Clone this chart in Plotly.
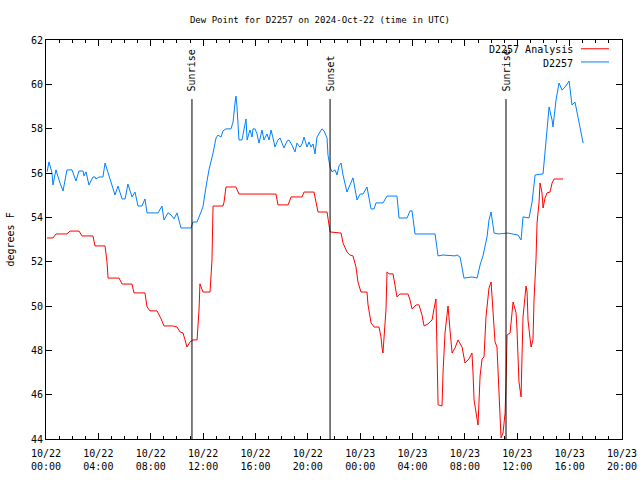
import pandas as pd
import plotly.graph_objects as go

# ---- data (hours since 2024-10-22 00:00 UTC, dew point °F) ----
obs_hours = [0.08, 0.23, 0.46, 0.53, 0.76, 0.92, 1.07, 1.30, 1.60, 1.99, 2.29, 2.52, 2.83, 2.90, 3.06,
             3.28, 3.59, 3.74, 3.82, 4.05, 4.35, 4.51, 4.74, 5.04, 5.27, 5.50, 5.81, 6.04, 6.26, 6.57,
             6.80, 7.03, 7.33, 7.56, 7.72, 8.56, 8.86, 9.01, 9.32, 9.55, 9.78, 10.01, 10.31, 11.08, 11.23,
             11.54, 11.76, 11.99, 12.22, 12.45, 12.76, 12.99, 13.14, 13.37, 13.52, 13.75, 14.13, 14.29, 14.44,
             14.51, 14.59, 14.74, 14.97, 15.13, 15.28, 15.36, 15.58, 15.74, 15.81, 15.97, 16.12, 16.27, 16.50,
             16.65, 16.88, 17.04, 17.19, 17.34, 17.49, 17.72, 17.88, 18.03, 18.18, 18.41, 18.56, 18.79, 19.02,
             19.17, 19.40, 19.56, 19.71, 19.94, 20.09, 20.24, 20.40, 20.55, 20.70, 20.93, 21.08, 21.24, 21.47,
             21.54, 21.70, 21.85, 22.08, 22.23, 22.38, 22.54, 22.69, 22.99, 23.45, 23.76, 23.99, 24.22, 24.52,
             24.83, 25.06, 25.21, 25.74, 26.05, 26.81, 26.97, 27.58, 27.81, 27.96, 28.19, 29.72, 29.95, 30.33,
             31.24, 31.40, 31.63, 31.93, 32.54, 32.93, 33.16, 33.38, 33.69, 33.84, 34.00, 34.23, 34.53, 35.30,
             36.06, 36.29, 36.44, 36.90, 37.13, 37.36, 37.97, 38.20, 38.43, 38.66, 38.73, 38.96, 39.19, 39.42,
             39.65, 39.96, 40.18, 40.41, 40.57, 40.80, 41.03]
obs_dewpt = [56.05, 56.5, 56.0, 55.46, 56.14, 55.78, 55.55, 55.19, 56.14, 56.14, 55.64, 56.09, 56.09, 55.87, 56.05,
             55.46, 55.82, 55.82, 55.73, 55.82, 55.82, 56.45, 56.0, 55.37, 55.01, 55.41, 54.83, 54.83, 55.5, 54.92,
             55.14, 54.51, 54.51, 54.83, 54.2, 54.2, 54.51, 53.88, 54.2, 54.11, 53.93, 54.2, 53.52, 53.52, 53.79,
             53.79, 54.15, 54.47, 55.37, 56.14, 56.9, 57.58, 57.71, 57.62, 57.9, 57.99, 57.99, 58.3, 59.16,
             59.47, 58.98, 57.49, 57.49, 57.94, 58.44, 57.49, 57.94, 57.62, 57.99, 57.99, 57.76, 57.35, 57.94,
             57.49, 57.76, 57.49, 57.94, 57.58, 57.17, 57.49, 57.58, 57.35, 57.13, 57.44, 57.49, 57.26, 56.95,
             57.35, 57.17, 57.31, 57.62, 57.17, 57.4, 57.17, 57.31, 56.86, 57.62, 57.85, 57.99, 57.9, 57.58,
             56.81, 56.27, 56.05, 56.14, 55.91, 56.32, 56.45, 55.91, 55.14, 55.78, 54.78, 55.05, 55.05, 55.37,
             54.38, 54.38, 54.65, 54.65, 54.96, 54.96, 53.97, 53.97, 54.29, 54.29, 53.25, 53.25, 52.26, 52.3,
             52.26, 52.3, 52.21, 51.26, 51.31, 51.26, 51.85, 52.26, 53.11, 53.88, 54.24, 53.29, 53.25, 53.29,
             53.2, 52.98, 54.02, 53.97, 54.69, 55.91, 55.96, 57.62, 58.98, 58.39, 58.08, 59.29, 60.06, 59.74,
             59.88, 60.15, 59.07, 59.2, 58.75, 58.03, 57.35]

ana_hours = [0.08, 0.53, 0.76, 1.60, 1.83, 2.52, 2.75, 3.59, 3.74, 4.51, 4.66, 4.74, 5.58, 5.81, 6.57,
             6.72, 7.56, 7.72, 7.94, 8.48, 8.79, 9.01, 9.70, 10.01, 10.24, 10.47, 10.62, 10.77, 11.00, 11.23,
             11.54, 11.69, 11.76, 11.99, 12.53, 12.68, 12.76, 13.52, 13.60, 13.75, 14.51, 14.74, 17.57, 17.72,
             18.49, 18.72, 19.56, 19.71, 20.47, 20.63, 20.78, 21.47, 21.62, 21.70, 22.54, 22.69, 22.99, 23.22,
             23.45, 23.68, 23.83, 24.06, 24.52, 24.60, 24.83, 25.06, 25.44, 25.59, 25.67, 25.74, 25.82, 25.97,
             26.05, 26.20, 26.51, 26.66, 26.81, 27.04, 27.65, 27.81, 27.96, 28.27, 28.49, 28.72, 28.88, 29.18,
             29.49, 29.64, 29.79, 29.87, 29.95, 30.25, 30.33, 30.48, 30.71, 30.86, 31.02, 31.25, 31.47, 31.78,
             32.01, 32.31, 32.54, 32.62, 32.70, 33.00, 33.16, 33.31, 33.46, 33.61, 33.84, 34.00, 34.15, 34.30,
             34.45, 34.61, 34.76, 34.91, 35.07, 35.14, 35.22, 35.45, 35.60, 35.68, 35.91, 35.98, 36.13, 36.29,
             36.36, 36.44, 36.67, 36.75, 36.82, 36.97, 37.05, 37.20, 37.28, 37.43, 37.51, 37.66, 37.74, 37.89,
             37.97, 38.12, 38.27, 38.50, 38.66, 38.81, 39.50]
ana_dewpt = [53.07, 53.07, 53.25, 53.25, 53.38, 53.38, 53.16, 53.16, 52.71, 52.71, 51.99, 51.26, 51.26, 50.99, 50.99,
             50.59, 50.59, 49.96, 49.78, 49.78, 49.42, 49.1, 49.1, 49.05, 48.83, 48.78, 48.47, 48.15, 48.38, 48.47,
             48.47, 49.82, 51.0, 50.63, 50.63, 52.08, 54.51, 54.51, 54.69, 55.37, 55.37, 55.05, 55.05, 54.56,
             54.56, 54.92, 54.92, 55.14, 55.14, 54.65, 54.24, 54.24, 53.75, 53.34, 53.29, 52.84, 52.44, 52.3,
             52.26, 51.76, 51.08, 50.63, 50.63, 50.05, 49.24, 49.05, 49.05, 48.6, 48.11, 47.88, 48.56, 49.82,
             51.54, 51.45, 51.45, 50.95, 50.41, 50.54, 50.54, 50.27, 49.87, 50.05, 50.05, 49.6, 49.1, 49.19,
             49.37, 49.87, 50.32, 47.93, 45.54, 45.49, 47.02, 48.78, 50.0, 48.92, 47.88, 48.11, 48.47, 48.15,
             47.43, 47.61, 47.88, 46.98, 45.76, 44.63, 46.84, 47.61, 47.7, 49.51, 50.81, 51.08, 49.82, 48.38,
             48.15, 46.08, 44.05, 44.27, 45.18, 46.53, 48.69, 48.78, 49.69, 50.18, 49.69, 48.92, 46.57, 45.9,
             47.7, 49.51, 50.9, 50.63, 49.37, 48.38, 48.15, 48.47, 50.27, 52.08, 53.75, 54.65, 55.55, 55.1,
             54.42, 54.87, 55.1, 55.14, 55.55, 55.73, 55.73]

event_hours = [11.15, 21.70, 35.14]
event_labels = ["Sunrise", "Sunset", "Sunrise"]

series_names = ["D2257 Analysis", "D2257"]
series_colors = ["#ff0000", "#0080ff"]

x_tick_hours = [0, 4, 8, 12, 16, 20, 24, 28, 32, 36, 40, 44]
y_ticks = [44, 46, 48, 50, 52, 54, 56, 58, 60, 62]

BASE = pd.Timestamp("2024-10-22 00:00")


def to_time(hours):
    return [BASE + pd.to_timedelta(h, unit="h") for h in hours]


FONT = "DejaVu Sans Mono"

fig = go.Figure()
fig.add_trace(go.Scatter(x=to_time(ana_hours), y=ana_dewpt, mode="lines", name=series_names[0],
                         line=dict(color=series_colors[0], width=1), showlegend=False))
fig.add_trace(go.Scatter(x=to_time(obs_hours), y=obs_dewpt, mode="lines", name=series_names[1],
                         line=dict(color=series_colors[1], width=1), showlegend=False))

# sunrise / sunset markers
for h, lab in zip(event_hours, event_labels):
    t = to_time([h])[0]
    fig.add_shape(type="line", xref="x", yref="paper", x0=t, x1=t, y0=0, y1=0.852,
                  line=dict(color="black", width=1))
    fig.add_annotation(x=t, xref="x", y=0.866, yref="paper", text=lab, textangle=-90,
                       showarrow=False, xanchor="center", yanchor="bottom",
                       font=dict(family=FONT, size=10, color="black"))

# legend (gnuplot style: text then sample on the right)
leg_y = [0.975, 0.942]
for name, col, yy in zip(series_names, series_colors, leg_y):
    fig.add_annotation(x=0.9185, xref="paper", y=yy, yref="paper", text=name, showarrow=False,
                       xanchor="right", yanchor="middle", font=dict(family=FONT, size=10, color="black"))
    fig.add_shape(type="line", xref="paper", yref="paper", x0=0.9288, x1=0.9774, y0=yy + 0.003, y1=yy + 0.003,
                  line=dict(color=col, width=1))

# y-axis label
fig.add_annotation(x=-0.0625, xref="paper", y=0.5, yref="paper", text="degrees F", textangle=-90,
                   showarrow=False, xanchor="center", yanchor="middle",
                   font=dict(family=FONT, size=10, color="black"))

tick_times = to_time(x_tick_hours)
tick_text = [t.strftime("%m/%d<br>%H:%M") for t in tick_times]

fig.update_layout(
    width=640, height=480,
    margin=dict(l=46, r=18, t=40, b=41, autoexpand=False),
    paper_bgcolor="white", plot_bgcolor="white",
    font=dict(family=FONT, size=10, color="black"),
    title=dict(text="Dew Point for D2257 on 2024-Oct-22 (time in UTC)", x=0.5, xanchor="center",
               y=0.958, yanchor="middle", automargin=False,
               font=dict(family=FONT, size=9, color="black")),
    xaxis=dict(range=[tick_times[0], tick_times[-1]], tickvals=tick_times, ticktext=tick_text,
               automargin=False, ticklabelstandoff=5,
               showgrid=False, zeroline=False, showline=True, linecolor="black", linewidth=1,
               mirror="ticks", ticks="inside", ticklen=6, tickcolor="black",
               minor=dict(ticks="inside", ticklen=3, dtick=3600000, tickcolor="black"),
               tickfont=dict(family=FONT, size=10)),
    yaxis=dict(range=[44, 62], tickvals=y_ticks, showgrid=False, zeroline=False, showline=True,
               automargin=False,
               linecolor="black", linewidth=1, mirror="ticks", ticks="inside", ticklen=6,
               tickcolor="black", tickfont=dict(family=FONT, size=10)),
)

fig.write_html("out.html", config={"displayModeBar": False},
               post_script="document.body.style.margin='0px';document.body.style.overflow='hidden';")
